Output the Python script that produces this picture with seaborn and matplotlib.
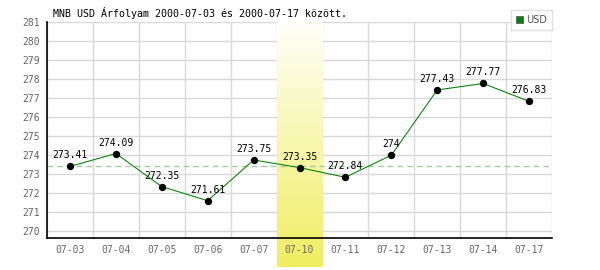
import numpy as np
import pandas as pd
import matplotlib
matplotlib.use("Agg")
import matplotlib.pyplot as plt
import seaborn as sns
from matplotlib.patches import Patch

dates = ["07-03", "07-04", "07-05", "07-06", "07-07", "07-10",
         "07-11", "07-12", "07-13", "07-14", "07-17"]
rates = [273.41, 274.09, 272.35, 271.61, 273.75, 273.35,
         272.84, 274.00, 277.43, 277.77, 276.83]
highlight = "07-10"
y_ticks = list(range(270, 282))
title = "MNB USD Árfolyam 2000-07-03 és 2000-07-17 között."
series_name = "USD"

df = pd.DataFrame({"pos": np.arange(len(dates)), "date": dates, "rate": rates})

sns.set_style("white")
plt.rcParams["font.family"] = ["DejaVu Sans Mono"]

fig = plt.figure(figsize=(6, 2.7), dpi=100)
ax = fig.add_axes([47 / 600, 1 - 238 / 270, 505 / 600, 216 / 270])

ymin, ymax = 269.65, 281.0

# grid lines (drawn manually so the band sits over them, under the tick labels)
for gx in np.arange(-0.5, len(dates)):
    ax.axvline(gx, color="#d9d9d9", lw=1, zorder=0.5)
for gy in y_ticks:
    ax.axhline(gy, color="#d9d9d9", lw=1, zorder=0.5)

# highlighted date band with gradient
hi = dates.index(highlight)
grad = np.linspace(0, 1, 256).reshape(-1, 1)
top_c = np.array([255, 255, 250]) / 255
bot_c = np.array([240, 238, 96]) / 255
img = top_c[None, None, :] * (1 - grad[:, :, None]) + bot_c[None, None, :] * grad[:, :, None]
px_per_unit = (238 - 22) / (ymax - ymin)
band_bottom = ymin - (267 - 238) / px_per_unit
ax.imshow(img, extent=(hi - 0.5, hi + 0.5, band_bottom, ymax), origin="upper",
          aspect="auto", zorder=1, clip_on=False, interpolation="bilinear")

# reference line at first value
ax.axhline(rates[0], color="#9fcf9f", lw=1, ls=(0, (4, 3)), zorder=2)

sns.lineplot(data=df, x="pos", y="rate", color="#008000", lw=0.75, ax=ax, zorder=3)
sns.scatterplot(data=df, x="pos", y="rate", color="black", s=28, edgecolor="black",
                linewidth=0, ax=ax, zorder=4)

for x, v in zip(df["pos"], rates):
    ax.annotate(f"{v:g}", (x, v), xytext=(0, 11), textcoords="offset pixels",
                ha="center", va="center", fontsize=7, color="black", zorder=5)

ax.set_xlim(-0.5, len(dates) - 0.5)
ax.set_ylim(ymin, ymax)
ax.set_xticks(df["pos"])
ax.set_xticklabels(dates)
ax.set_yticks(y_ticks)
ax.grid(False)
ax.set_axisbelow(False)
ax.xaxis.set_zorder(6)
ax.yaxis.set_zorder(6)
ax.tick_params(axis="both", which="both", length=0, labelsize=7, colors="#666666")
ax.tick_params(axis="x", pad=5)
ax.tick_params(axis="y", pad=5)
ax.set_xlabel("")
ax.set_ylabel("")

for s in ["top", "right"]:
    ax.spines[s].set_visible(False)
for s in ["left", "bottom"]:
    ax.spines[s].set_color("black")
    ax.spines[s].set_linewidth(1.2)
    ax.spines[s].set_zorder(6)

fig.text(53 / 600, 1 - 13 / 270, title, ha="left", va="center", fontsize=7.2, color="black")

leg = fig.legend(handles=[Patch(facecolor="#008000", edgecolor="#555555", lw=0.5, label=series_name)],
                 loc="upper right", bbox_to_anchor=(552 / 600, 1 - 10 / 270),
                 frameon=True, fancybox=False, handlelength=0.8, handleheight=0.8,
                 handletextpad=0.3, borderpad=0.5, borderaxespad=0,
                 prop={"family": "DejaVu Sans", "size": 7})
leg.get_frame().set_edgecolor("#d9d9d9")
leg.get_frame().set_linewidth(1)
for t in leg.get_texts():
    t.set_color("#555555")

fig.savefig("out.png", dpi=100)
